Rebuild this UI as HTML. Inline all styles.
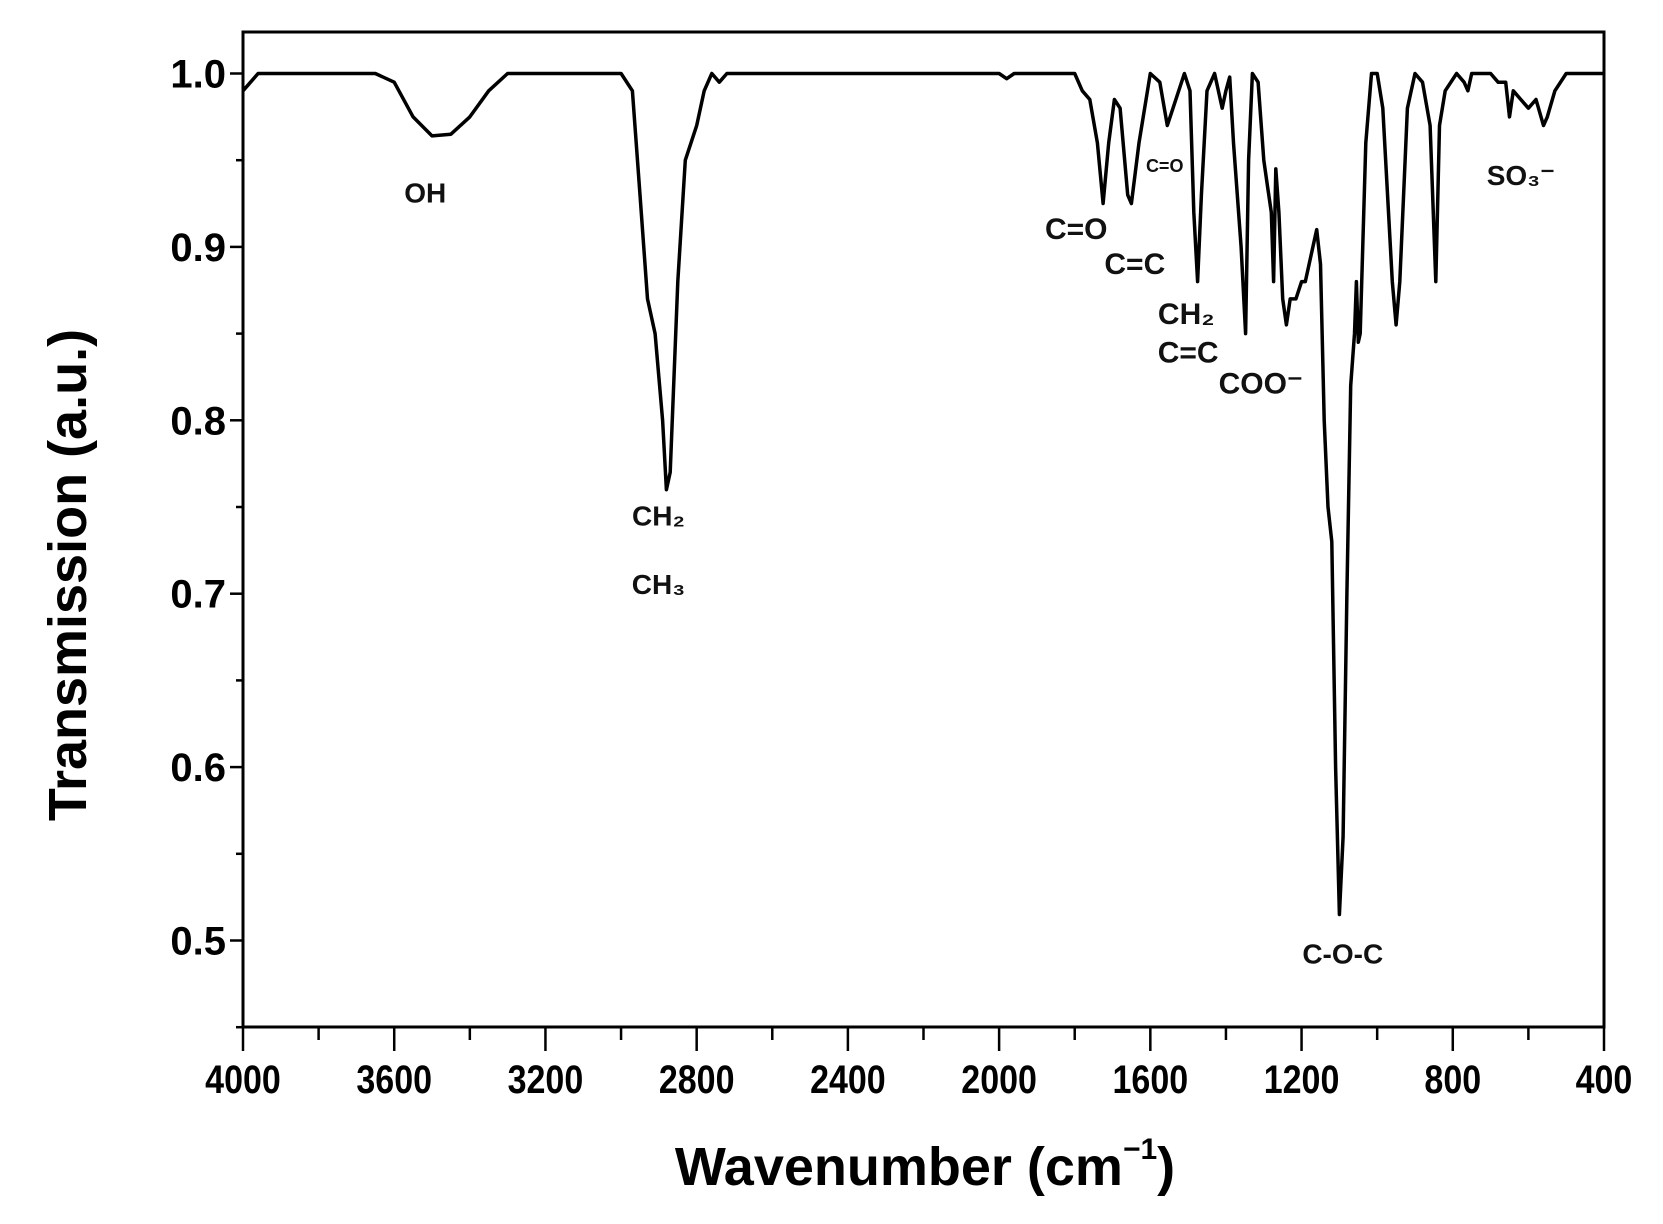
<!DOCTYPE html>
<html><head><meta charset="utf-8"><style>
html,body{margin:0;padding:0;background:#fff;}
svg{display:block;font-family:"Liberation Sans",Arial,sans-serif;}
</style></head><body>
<svg id="chart" width="1663" height="1224" viewBox="0 0 1663 1224" xmlns="http://www.w3.org/2000/svg">
<rect x="0" y="0" width="1663" height="1224" fill="#fff"/>
<g id="axes"></g>
<path id="spectrum" fill="none" stroke="#000" stroke-width="3.5" stroke-linejoin="round"/>
<g id="labels" font-weight="bold" fill="#111" text-anchor="middle"></g>
<text transform="translate(86,575) rotate(-90)" text-anchor="middle" font-size="54" font-weight="bold">Transmission (a.u.)</text>
<text x="925" y="1185" text-anchor="middle" font-size="54" font-weight="bold">Wavenumber (cm<tspan font-size="30" dy="-26">−1</tspan><tspan dy="26">)</tspan></text>
</svg>
<script>
const wavenumbers=[4000,3960,3650,3600,3550,3500,3450,3400,3350,3300,3000,2970,2950,2930,2910,2890,2880,2870,2850,2830,2800,2780,2760,2740,2720,2000,1980,1960,1800,1780,1760,1740,1725,1710,1695,1680,1660,1650,1630,1600,1575,1555,1540,1510,1495,1485,1475,1465,1450,1430,1410,1400,1390,1380,1360,1348,1340,1330,1315,1300,1290,1280,1274,1268,1260,1250,1240,1230,1215,1200,1190,1170,1160,1150,1140,1130,1120,1110,1100,1090,1080,1070,1060,1055,1050,1045,1030,1015,1000,985,960,950,940,920,900,880,860,845,835,820,790,770,760,750,700,680,660,650,640,620,600,580,560,550,530,500,400];
const transmission=[0.99,1.0,1.0,0.995,0.975,0.964,0.965,0.975,0.99,1.0,1.0,0.99,0.93,0.87,0.85,0.80,0.76,0.77,0.88,0.95,0.97,0.99,1.0,0.995,1.0,1.0,0.997,1.0,1.0,0.99,0.985,0.96,0.925,0.96,0.985,0.98,0.93,0.925,0.96,1.0,0.995,0.97,0.98,1.0,0.99,0.92,0.88,0.93,0.99,1.0,0.98,0.99,0.998,0.96,0.9,0.85,0.95,1.0,0.995,0.95,0.935,0.92,0.88,0.945,0.92,0.87,0.855,0.87,0.87,0.88,0.88,0.90,0.91,0.89,0.80,0.75,0.73,0.60,0.515,0.56,0.7,0.82,0.85,0.88,0.845,0.85,0.96,1.0,1.0,0.98,0.88,0.855,0.88,0.98,1.0,0.995,0.97,0.88,0.97,0.99,1.0,0.995,0.99,1.0,1.0,0.995,0.995,0.975,0.99,0.985,0.98,0.985,0.97,0.975,0.99,1.0,1.0];
const xTicks=["4000","3600","3200","2800","2400","2000","1600","1200","800","400"];
const yTicks=["0.5","0.6","0.7","0.8","0.9","1.0"];
const annText=["OH","CH₂","CH₃","C=O","C=O","C=C","CH₂","C=C","COO⁻","C-O-C","SO₃⁻"];
const annWn=[3518,2901,2901,1796,1562,1641,1505,1500,1308,1091,620];
const annT=[0.930,0.7435,0.704,0.909,0.946,0.889,0.860,0.838,0.820,0.491,0.940];
const annSize=[28,28,28,30,18,30,30,30,30,28,28];

const L=243,R=1604,T=32,B=1027;
const X=w=>L+(4000-w)/3600*(R-L);
const Y=v=>73.5+(1.0-v)*1734;
const NS="http://www.w3.org/2000/svg";
function mk(tag,attrs,parent){const e=document.createElementNS(NS,tag);for(const k in attrs)e.setAttribute(k,attrs[k]);parent.appendChild(e);return e;}
const ax=document.getElementById('axes');
const frame=mk('rect',{x:L,y:T,width:R-L,height:B-T,fill:'none',stroke:'#000','stroke-width':3},ax);


for(let i=0;i<=18;i++){const w=4000-i*200;const x=X(w);const major=i%2===0;
 const t=mk('line',{x1:x,y1:B,x2:x,y2:B+(major?24:13),stroke:'#000','stroke-width':2.5},ax);
 
 }
xTicks.forEach(s=>{const x=X(+s);
 const t=mk('text',{x:x,y:1093,'text-anchor':'middle','font-size':40,'font-weight':'bold',transform:`translate(${x},0) scale(0.85,1) translate(${-x},0)`},ax);t.textContent=s;
 
 });
for(let i=0;i<=11;i++){const v=0.45+i*0.05;const y=Y(v);if(y<T)continue;const major=i%2===1;
 const t=mk('line',{x1:L,y1:y,x2:L-(major?13:7),y2:y,stroke:'#000','stroke-width':2.5},ax);
 
 }
yTicks.forEach(s=>{const y=Y(+s);
 const t=mk('text',{x:226,y:y+14,'text-anchor':'end','font-size':40,'font-weight':'bold'},ax);t.textContent=s;
 
 });
let d='';wavenumbers.forEach((w,i)=>{d+=(i?'L':'M')+X(w).toFixed(1)+' '+Y(transmission[i]).toFixed(1);});
document.getElementById('spectrum').setAttribute('d',d);
const lg=document.getElementById('labels');
annText.forEach((s,i)=>{const t=mk('text',{x:X(annWn[i]),y:Y(annT[i]),'font-size':annSize[i],'dominant-baseline':'middle'},lg);t.textContent=s;
 
 });
</script>
</body></html>
